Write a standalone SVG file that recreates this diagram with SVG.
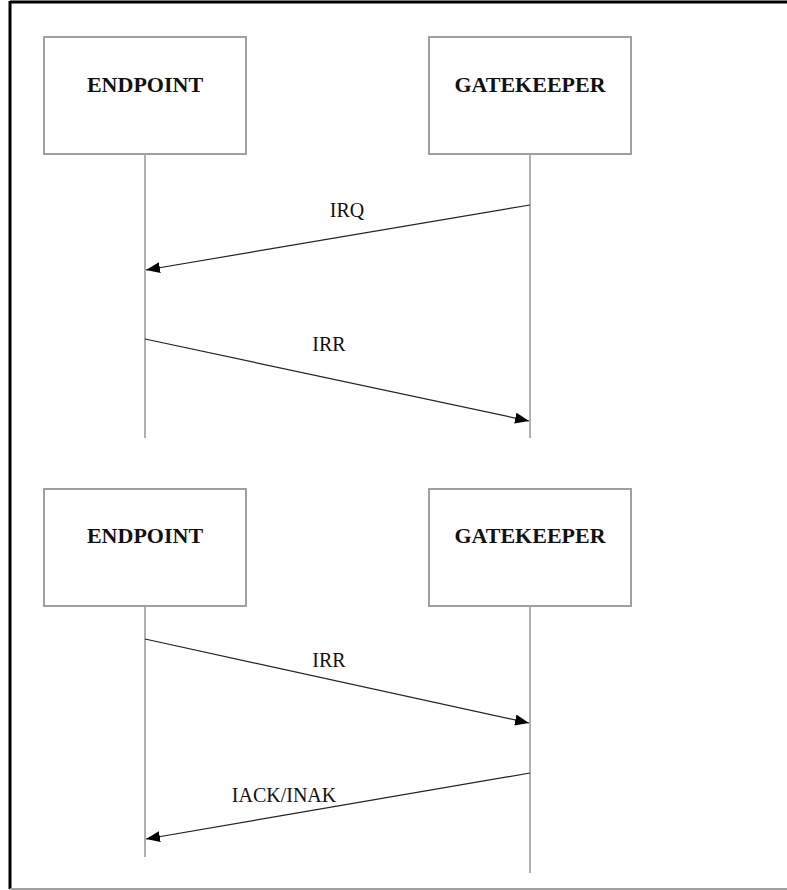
<svg xmlns="http://www.w3.org/2000/svg" width="787" height="890" viewBox="0 0 787 890">
  <defs>
    <marker id="head" viewBox="0 0 14 11" refX="14" refY="5.5" markerWidth="14" markerHeight="11" markerUnits="userSpaceOnUse" orient="auto">
      <path d="M0,0 L14,5.5 L0,11 Z" fill="#000"/>
    </marker>
  </defs>
  <style>
    .box { fill: #fff; stroke: #a0a0a0; stroke-width: 2; }
    .title { font-family: "Liberation Serif", "Times New Roman", serif; font-weight: bold; font-size: 22px; fill: #111; text-anchor: middle; }
    .life { stroke: #b0b0b0; stroke-width: 2; fill: none; }
    .msg { stroke: #222; stroke-width: 1.2; fill: none; marker-end: url(#head); }
    .label { font-family: "Liberation Serif", "Times New Roman", serif; font-size: 20px; fill: #111; text-anchor: middle; }
  </style>
  <rect width="787" height="890" fill="#fff"/>
  <!-- frame -->
  <line x1="10" y1="2" x2="787" y2="2" stroke="#000" stroke-width="3"/>
  <line x1="10" y1="1" x2="10" y2="889" stroke="#000" stroke-width="3"/>
  <line x1="10" y1="889" x2="787" y2="889" stroke="#a0a0a0" stroke-width="2"/>

  <!-- lifelines and messages -->
  <g id="connectors">
    <line class="life" x1="145" y1="154" x2="145" y2="438"/>
    <line class="life" x1="530" y1="154" x2="530" y2="438"/>
    <line class="life" x1="145" y1="606" x2="145" y2="857"/>
    <line class="life" x1="530" y1="606" x2="530" y2="873"/>

    <line class="msg" x1="530" y1="205" x2="146" y2="270"/>
    <line class="msg" x1="145" y1="339" x2="529" y2="421"/>
    <line class="msg" x1="145" y1="639" x2="529" y2="723"/>
    <line class="msg" x1="530" y1="773" x2="146" y2="839"/>

    <text class="label" x="347" y="217">IRQ</text>
    <text class="label" x="329" y="351">IRR</text>
    <text class="label" x="329" y="667">IRR</text>
    <text class="label" x="284" y="802">IACK/INAK</text>
  </g>

  <g id="endpoint-1">
    <rect class="box" x="44" y="37" width="202" height="117"/>
    <text class="title" x="145" y="92">ENDPOINT</text>
  </g>
  <g id="gatekeeper-1">
    <rect class="box" x="429" y="37" width="202" height="117"/>
    <text class="title" x="530" y="92">GATEKEEPER</text>
  </g>
  <g id="endpoint-2">
    <rect class="box" x="44" y="489" width="202" height="117"/>
    <text class="title" x="145" y="543">ENDPOINT</text>
  </g>
  <g id="gatekeeper-2">
    <rect class="box" x="429" y="489" width="202" height="117"/>
    <text class="title" x="530" y="543">GATEKEEPER</text>
  </g>
</svg>
